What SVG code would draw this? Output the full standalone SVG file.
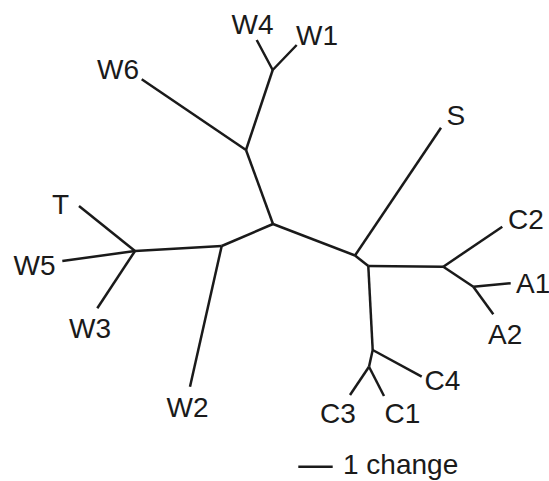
<svg xmlns="http://www.w3.org/2000/svg" width="549" height="481" viewBox="0 0 549 481">
<style>
.e{stroke:#1a1a1a;stroke-width:2.5;fill:none;stroke-linecap:butt;stroke-linejoin:miter}
text{font-family:"Liberation Sans",Arial,sans-serif;font-size:28px;fill:#1a1a1a}
</style>
<rect width="549" height="481" fill="#fff"/>
<g id="connectors" class="e">
<path d="M256.7,40 L272.7,70 L296.7,45"/>
<path d="M272.7,70 L246,150"/>
<path d="M141.7,79.3 L246,150"/>
<path d="M246,150 L273,224"/>
<path d="M273,224 L221.7,246"/>
<path d="M221.7,246 L190,386.7"/>
<path d="M221.7,246 L135,251"/>
<path d="M79,206 L135,251"/>
<path d="M62.3,261 L135,251"/>
<path d="M97.3,308.3 L135,251"/>
<path d="M273,224 L355,255.5"/>
<path d="M355,255.5 L441,127.7"/>
<path d="M355,255.5 L368.3,266"/>
<path d="M368.3,266 L443.3,266.7"/>
<path d="M443.3,266.7 L502.3,226.7"/>
<path d="M443.3,266.7 L473.3,286.7"/>
<path d="M473.3,286.7 L510.7,283.3"/>
<path d="M473.3,286.7 L493.3,314.3"/>
<path d="M368.3,266 L372.7,350"/>
<path d="M372.7,350 L421.7,376.7"/>
<path d="M372.7,350 L369,366.7"/>
<path d="M369,366.7 L350,395"/>
<path d="M369,366.7 L384,396"/>
</g>
<g id="W4"><text x="231.5" y="34">W4</text></g>
<g id="W1"><text x="296" y="45">W1</text></g>
<g id="W6"><text x="97" y="79">W6</text></g>
<g id="T"><text x="52" y="214">T</text></g>
<g id="W5"><text x="13.5" y="274.5">W5</text></g>
<g id="W3"><text x="69" y="337.5">W3</text></g>
<g id="W2"><text x="166.5" y="417">W2</text></g>
<g id="S"><text x="446.5" y="124.5">S</text></g>
<g id="C2"><text x="508" y="228.5">C2</text></g>
<g id="A1"><text x="516" y="293">A1</text></g>
<g id="A2"><text x="488" y="343.5">A2</text></g>
<g id="C4"><text x="424.5" y="389.5">C4</text></g>
<g id="C3"><text x="320" y="423">C3</text></g>
<g id="C1"><text x="384.5" y="423">C1</text></g>
<g id="scale">
<path class="e" d="M298.3,466.7 L332.7,466.7"/>
<text x="343" y="474">1 change</text>
</g>
</svg>
